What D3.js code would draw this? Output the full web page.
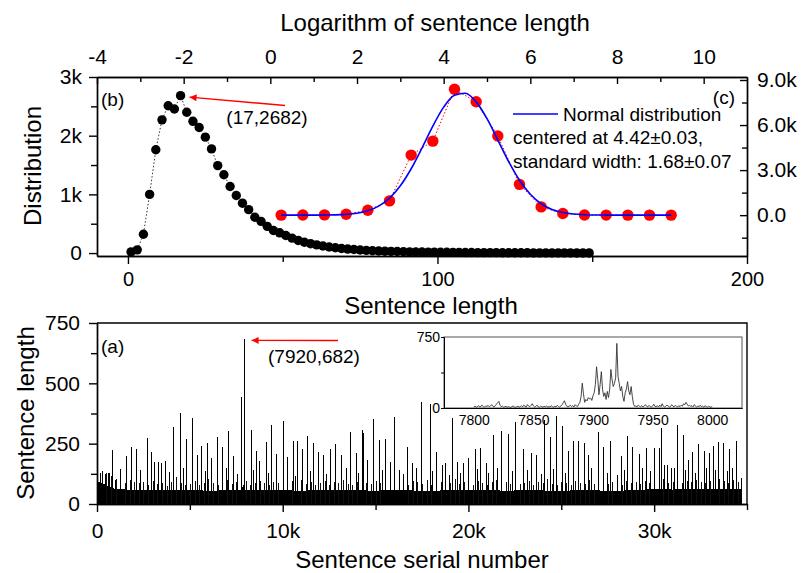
<!DOCTYPE html>
<html>
<head>
<meta charset="utf-8">
<script src="https://cdn.jsdelivr.net/npm/d3@7"></script>
<style>
  body { margin: 0; background: #fff; }
  svg text { font-family: "Liberation Sans", Arial, sans-serif; fill: #000; }
</style>
</head>
<body>
<svg width="804" height="573"></svg>
<script>
// ---- data: (b) distribution of sentence length (lengths 1,3,5,...,149)
var distLength = d3.range(1, 150, 2);
var distCount = [20, 55, 320, 1000, 1760, 2270, 2510, 2455, 2682, 2400,
  2245, 2140, 1975, 1775, 1490, 1335, 1135, 980, 850, 740,
  610, 540, 455, 385, 345, 300, 255, 215, 185, 160,
  140, 120, 104, 90, 78, 68, 60, 52, 46, 40,
  36, 32, 29, 26, 23, 21, 19, 17, 16, 15,
  14, 13, 12, 11, 10, 9, 8, 8, 7, 7,
  6, 6, 5, 5, 5, 4, 4, 4, 3, 3,
  3, 3, 2, 2, 2];

// ---- data: (c) distribution of log2(sentence length)
var logX = [0.25, 0.75, 1.25, 1.75, 2.25, 2.75, 3.25, 3.75, 4.25, 4.75,
  5.25, 5.75, 6.25, 6.75, 7.25, 7.75, 8.25, 8.75, 9.25];
var logCount = [3, 8, 20, 60, 330, 950, 4000, 4930, 8380, 7550,
  5270, 2050, 550, 110, 15, 5, 2, 1, 1];

// fitted normal curve (x step 0.25)
var fitX = [0.25, 0.5, 0.75, 1, 1.25, 1.5, 1.75, 2, 2.25, 2.5, 2.75, 3, 3.25,
  3.5, 3.75, 4, 4.25, 4.5, 4.75, 5, 5.25, 5.5, 5.75, 6, 6.25, 6.5, 6.75,
  7, 7.25, 7.5, 7.75, 8, 8.25, 8.5, 8.75, 9, 9.25];
var fitY = [0, 0, 0, 2, 7, 19, 52, 128, 289, 598, 1129, 1953, 3089,
  4472, 5929, 7192, 7985, 8113, 7544, 6422, 5001, 3566, 2326, 1390, 760, 380, 174,
  73, 28, 10, 3, 1, 0, 0, 0, 0, 0];

// ---- data: (a) sentence length vs serial number
var lastSerial = 34700;
// solid core of the dense band, every 1000 sentences
var coreLen = [95, 62, 58, 60, 57, 58, 55, 57, 58, 56, 57, 55, 58, 56, 57, 55, 58, 56,
  55, 57, 56, 58, 55, 57, 56, 55, 57, 56, 55, 57, 62, 60, 63, 60, 62, 60];
// upper edge of the dense band, every 250 sentences
var bandTop = [120, 135, 128, 118, 105, 96, 88, 100, 92, 85,
  90, 78, 95, 84, 88, 76, 92, 110, 86, 80,
  82, 95, 78, 88, 104, 85, 80, 92, 98, 84,
  90, 112, 96, 80, 88, 94, 86, 78, 92, 85,
  88, 80, 96, 84, 100, 82, 90, 78, 86, 94,
  80, 92, 86, 98, 84, 78, 90, 105, 88, 82,
  94, 86, 80, 92, 88, 100, 84, 78, 96, 90,
  84, 98, 80, 88, 92, 78, 86, 104, 82, 90,
  86, 80, 94, 88, 78, 92, 100, 84, 90, 82,
  92, 84, 88, 96, 80, 90, 86, 102, 84, 78,
  90, 86, 80, 94, 88, 84, 98, 82, 90, 86,
  84, 92, 88, 80, 96, 86, 90, 82, 94, 88,
  96, 90, 104, 86, 92, 98, 88, 94, 90, 100,
  92, 88, 96, 90, 102, 94, 86, 98, 92];
// isolated long sentences [serial, length]
var spikes = [[160, 129], [270, 134], [420, 125], [600, 128], [650, 128], [790, 223], [990, 101],
  [1220, 147], [1260, 146], [1545, 198], [1840, 238], [2120, 226], [2335, 141], [2700, 272],
  [2930, 215], [3080, 174], [3270, 175], [3460, 169], [3640, 178], [3900, 132], [4100, 321],
  [4450, 377], [4620, 150], [4770, 270], [5125, 356], [5370, 204], [5610, 241], [5800, 138],
  [5935, 252], [6115, 190], [6440, 277], [6745, 238], [6950, 150], [7050, 303], [7320, 197],
  [7560, 125], [7735, 443], [8270, 307], [8420, 140], [8580, 221], [8740, 179], [9080, 258],
  [9230, 130], [9390, 328], [9640, 206], [10035, 345], [10250, 194], [10540, 260], [10650, 118],
  [10790, 260], [11020, 227], [11330, 280], [11480, 135], [11620, 252], [11900, 215], [12190, 201],
  [12350, 125], [12520, 227], [12820, 249], [13145, 201], [13400, 150], [13630, 300], [13940, 211],
  [14050, 128], [14245, 307], [14315, 293], [14530, 183], [14855, 352], [15180, 266], [15350, 140],
  [15500, 269], [15790, 172], [15970, 360], [16275, 141], [16500, 125], [16710, 238], [16960, 169],
  [17200, 150], [17460, 421], [17915, 414], [18050, 138], [18265, 217], [18560, 162], [18760, 169],
  [18950, 120], [19140, 356], [19405, 172], [19550, 130], [19710, 169], [19995, 192], [20340, 227],
  [20480, 145], [20630, 234], [20935, 169], [21050, 128], [21340, 284], [21550, 150], [21760, 302],
  [22140, 290], [22320, 135], [22515, 339], [22950, 228], [23130, 141], [23395, 213], [23665, 201],
  [23900, 125], [24065, 350], [24405, 277], [24580, 145], [24730, 363], [25035, 324], [25180, 130],
  [25340, 221], [25610, 262], [25915, 263], [26205, 252], [26455, 201], [26620, 150], [26980, 298],
  [27265, 238], [27450, 128], [27605, 262], [27985, 120], [28215, 197], [28380, 140], [28515, 280],
  [28830, 236], [29170, 208], [29350, 150], [29550, 232], [29800, 135], [29980, 232], [30250, 232],
  [30385, 315], [30555, 162], [30700, 160], [30920, 148], [31050, 150], [31240, 328], [31545, 287],
  [31680, 140], [31800, 183], [32050, 215], [32200, 130], [32355, 248], [32660, 221], [32780, 150],
  [32930, 211], [33145, 242], [33300, 140], [33415, 256], [33720, 252], [33900, 135], [34045, 228],
  [34200, 150], [34385, 263], [34695, 107]];

// inset: sentences 7800..8000
var insetStart = 7800;
var insetLen = [12, 20, 8, 15, 25, 10, 18, 30, 14, 9, 22, 16, 28, 12, 20, 35, 18, 10, 24, 40,
  55, 70, 30, 14, 20, 9, 12, 18, 8, 15, 10, 6, 14, 22, 10, 8, 12, 18, 9, 14,
  25, 12, 30, 18, 10, 35, 20, 14, 28, 45, 22, 10, 16, 30, 12, 8, 20, 14, 10, 18,
  12, 22, 8, 16, 10, 25, 14, 9, 18, 12, 28, 15, 10, 20, 35, 55, 77, 40, 18, 12,
  20, 30, 15, 25, 10, 35, 22, 14, 40, 60, 120, 262, 150, 60, 90, 75, 110, 95, 105, 80,
  130, 160, 250, 436, 300, 140, 250, 384, 200, 122, 160, 90, 175, 110, 200, 408, 300, 227, 260, 320,
  682, 330, 260, 180, 227, 120, 70, 160, 200, 279, 180, 140, 227, 120, 40, 17, 22, 12, 30, 18,
  14, 25, 10, 20, 35, 18, 12, 28, 15, 9, 22, 40, 18, 12, 25, 10, 30, 14, 45, 20,
  12, 18, 30, 22, 10, 15, 35, 20, 12, 28, 18, 10, 25, 14, 30, 20, 45, 35, 60, 40,
  20, 30, 15, 25, 12, 35, 18, 10, 22, 14, 30, 12, 20, 8, 25, 15, 10, 18, 12, 8, 15];

var peakB = [17, 2682], peakA = [7920, 682];

// ---- layout
var svg = d3.select("svg");
var L = 97, R = 747;
var T1 = 77, B1 = 256, T2 = 323, B2 = 504;

var xLen = d3.scaleLinear().domain([-10, 200]).range([L, R]);
var yDist = d3.scaleLinear().domain([-50, 3000]).range([B1, T1]);
var xLog = d3.scaleLinear().domain([-4, 11]).range([L, R]);
var yLog = d3.scaleLinear().domain([-2720, 9200]).range([B1, T1]);
var xSer = d3.scaleLinear().domain([0, 35000]).range([L, R]);
var ySen = d3.scaleLinear().domain([0, 750]).range([B2, T2]);
var xIn = d3.scaleLinear().domain([7775, 8025]).range([444, 742]);
var yIn = d3.scaleLinear().domain([0, 750]).range([408, 337]);

var defs = svg.append("defs");
defs.append("marker").attr("id", "arr")
  .attr("viewBox", "0 0 10 10").attr("refX", 10).attr("refY", 5)
  .attr("markerUnits", "userSpaceOnUse")
  .attr("markerWidth", 10).attr("markerHeight", 7).attr("orient", "auto")
  .append("path").attr("d", "M0,0L10,5L0,10z").attr("fill", "#ff0000");

function drawAxis(gen, scale, major, minor, fmt, size, minorSize, pad, tr, fs, sw) {
  var gm = svg.append("g").attr("transform", tr)
    .call(gen(scale).tickValues(minor).tickFormat("").tickSizeInner(minorSize).tickSizeOuter(0));
  var g = svg.append("g").attr("transform", tr)
    .call(gen(scale).tickValues(major).tickFormat(fmt).tickSizeInner(size).tickSizeOuter(0).tickPadding(pad));
  [gm, g].forEach(function(s) {
    s.selectAll("path.domain, line").attr("stroke", "#000").attr("stroke-width", sw || 1.4);
  });
  g.selectAll("text").attr("font-size", fs).style("font-family", '"Liberation Sans", Arial, sans-serif');
  return g;
}

var kfmt = function(d) { return d === 0 ? "0" : d / 1000 + "k"; };

// ---- top panel axes
drawAxis(d3.axisLeft, yDist, [0, 1000, 2000, 3000], [500, 1500, 2500], kfmt, 8, 6, 7,
  "translate(" + L + ",0)", 21);
drawAxis(d3.axisBottom, xLen, [0, 100, 200], [50, 150], function(d) { return String(d); }, 8, 6, 8,
  "translate(0," + B1 + ")", 20);
drawAxis(d3.axisTop, xLog, d3.range(-4, 11, 2), d3.range(-3, 11, 2), function(d) { return String(d); }, -7, -5, 13,
  "translate(0," + T1 + ")", 21);
drawAxis(d3.axisRight, yLog, [0, 3000, 6000, 9000], [-1500, 1500, 4500, 7500],
  function(d) { return d === 0 ? "0.0" : (d / 1000).toFixed(1) + "k"; }, -7, -5, 10,
  "translate(" + R + ",0)", 21);

// ---- top panel: (b) black dots
var distPts = distLength.map(function(x, i) { return [x, distCount[i]]; });
svg.append("path").datum(distPts)
  .attr("d", d3.line().x(function(d) { return xLen(d[0]); }).y(function(d) { return yDist(d[1]); }))
  .attr("fill", "none").attr("stroke", "#333").attr("stroke-width", 1).attr("stroke-dasharray", "1.5,2");
svg.append("g").selectAll("circle").data(distPts).enter().append("circle")
  .attr("cx", function(d) { return xLen(d[0]); })
  .attr("cy", function(d) { return yDist(d[1]); })
  .attr("r", 4.7).attr("fill", "#000");

// ---- top panel: (c) red dots and fitted curve
var logPts = logX.map(function(x, i) { return [x, logCount[i]]; });
svg.append("path").datum(logPts)
  .attr("d", d3.line().x(function(d) { return xLog(d[0]); }).y(function(d) { return yLog(d[1]); }))
  .attr("fill", "none").attr("stroke", "#ff0000").attr("stroke-width", 1).attr("stroke-dasharray", "1.5,2");
svg.append("g").selectAll("circle").data(logPts).enter().append("circle")
  .attr("cx", function(d) { return xLog(d[0]); })
  .attr("cy", function(d) { return yLog(d[1]); })
  .attr("r", 5.7).attr("fill", "#ff0000");
var fitPts = fitX.map(function(x, i) { return [x, fitY[i]]; });
svg.append("path").datum(fitPts)
  .attr("d", d3.line().curve(d3.curveMonotoneX)
    .x(function(d) { return xLog(d[0]); }).y(function(d) { return yLog(d[1]); }))
  .attr("fill", "none").attr("stroke", "#0000ff").attr("stroke-width", 1.6);

// legend
svg.append("line").attr("x1", 513).attr("x2", 558).attr("y1", 114).attr("y2", 114)
  .attr("stroke", "#0000ff").attr("stroke-width", 1.6);
svg.append("text").attr("x", 563).attr("y", 121).attr("font-size", 19).text("Normal distribution");
svg.append("text").attr("x", 513).attr("y", 144).attr("font-size", 19).text("centered at 4.42\u00b10.03,");
svg.append("text").attr("x", 513).attr("y", 168).attr("font-size", 19).text("standard width: 1.68\u00b10.07");
svg.append("text").attr("x", 735).attr("y", 104).attr("font-size", 19).attr("text-anchor", "end").text("(c)");
svg.append("text").attr("x", 101).attr("y", 106).attr("font-size", 19).text("(b)");

// peak annotation (b)
svg.append("line")
  .attr("x1", 285).attr("y1", 105.5)
  .attr("x2", xLen(peakB[0]) + 9).attr("y2", yDist(peakB[1]) + 1.5)
  .attr("stroke", "#ff0000").attr("stroke-width", 1.4).attr("marker-end", "url(#arr)");
svg.append("text").attr("x", 267).attr("y", 124).attr("font-size", 19).attr("text-anchor", "middle")
  .text("(" + peakB[0] + "," + peakB[1] + ")");

// titles of top panel
svg.append("text").attr("x", 435).attr("y", 31).attr("font-size", 24).attr("text-anchor", "middle")
  .text("Logarithm of sentence length");
svg.append("text").attr("x", 431).attr("y", 314).attr("font-size", 24).attr("text-anchor", "middle")
  .text("Sentence length");
svg.append("text").attr("transform", "translate(41,166) rotate(-90)").attr("font-size", 24)
  .attr("text-anchor", "middle").text("Distribution");

// ---- bottom panel: (a) sentence series
var gS = svg.append("g").attr("shape-rendering", "crispEdges");
var corePts = coreLen.map(function(v, i) { return [Math.min(i * 1000, lastSerial), v]; });
gS.append("path").datum(corePts)
  .attr("d", d3.area().x(function(d) { return xSer(d[0]); }).y0(ySen(0)).y1(function(d) { return ySen(d[1]); }))
  .attr("fill", "#000");
gS.selectAll("line.band").data(bandTop).enter().append("line")
  .attr("x1", function(d, i) { return Math.round(xSer(i * 250)) + 0.5; })
  .attr("x2", function(d, i) { return Math.round(xSer(i * 250)) + 0.5; })
  .attr("y1", ySen(0)).attr("y2", function(d) { return ySen(d); })
  .attr("stroke", "#111").attr("stroke-width", 1);
gS.selectAll("line.spike").data(spikes).enter().append("line")
  .attr("x1", function(d) { return Math.round(xSer(d[0])) + 0.5; })
  .attr("x2", function(d) { return Math.round(xSer(d[0])) + 0.5; })
  .attr("y1", ySen(0)).attr("y2", function(d) { return ySen(d[1]); })
  .attr("stroke", "#000").attr("stroke-width", 1);
gS.selectAll("line.ins").data(insetLen).enter().append("line")
  .attr("x1", function(d, i) { return Math.round(xSer(insetStart + i)) + 0.5; })
  .attr("x2", function(d, i) { return Math.round(xSer(insetStart + i)) + 0.5; })
  .attr("y1", ySen(0)).attr("y2", function(d) { return ySen(d); })
  .attr("stroke", "#000").attr("stroke-width", 1);

// bottom panel frame and axes
svg.append("path").attr("d", "M" + L + "," + T2 + "H" + R + "V" + B2)
  .attr("fill", "none").attr("stroke", "#000").attr("stroke-width", 1.4);
drawAxis(d3.axisLeft, ySen, [0, 250, 500, 750], [125, 375, 625], function(d) { return String(d); }, 8, 6, 9,
  "translate(" + L + ",0)", 21);
drawAxis(d3.axisBottom, xSer, [0, 10000, 20000, 30000], [5000, 15000, 25000, 35000], kfmt, 8, 6, 11,
  "translate(0," + B2 + ")", 21);

svg.append("text").attr("x", 101).attr("y", 353).attr("font-size", 19).text("(a)");
svg.append("line")
  .attr("x1", 338).attr("y1", 340.5)
  .attr("x2", xSer(peakA[0]) + 7.5).attr("y2", ySen(peakA[1]) + 1)
  .attr("stroke", "#ff0000").attr("stroke-width", 1.4).attr("marker-end", "url(#arr)");
svg.append("text").attr("x", 314).attr("y", 363).attr("font-size", 19).attr("text-anchor", "middle")
  .text("(" + peakA[0] + "," + peakA[1] + ")");

svg.append("text").attr("transform", "translate(34,413) rotate(-90)").attr("font-size", 24)
  .attr("text-anchor", "middle").text("Sentence length");
svg.append("text").attr("x", 422).attr("y", 568).attr("font-size", 24).attr("text-anchor", "middle")
  .text("Sentence serial number");

// ---- inset
svg.append("rect").attr("x", xIn.range()[0]).attr("y", yIn.range()[1])
  .attr("width", xIn.range()[1] - xIn.range()[0]).attr("height", yIn.range()[0] - yIn.range()[1])
  .attr("fill", "none").attr("stroke", "#555").attr("stroke-width", 1);
var insPts = insetLen.map(function(v, i) { return [insetStart + i, v]; });
svg.append("path").datum(insPts)
  .attr("d", d3.line().x(function(d) { return xIn(d[0]); }).y(function(d) { return yIn(d[1]); }))
  .attr("fill", "none").attr("stroke", "#333").attr("stroke-width", 0.9);
drawAxis(d3.axisLeft, yIn, [0, 750], [375], function(d) { return String(d); }, 3, 3, 1,
  "translate(" + xIn.range()[0] + ",0)", 14, 1);
drawAxis(d3.axisBottom, xIn, [7800, 7850, 7900, 7950, 8000], [], function(d) { return String(d); }, 0, 0, 7,
  "translate(0," + yIn.range()[0] + ")", 14, 1);
</script>
</body>
</html>
